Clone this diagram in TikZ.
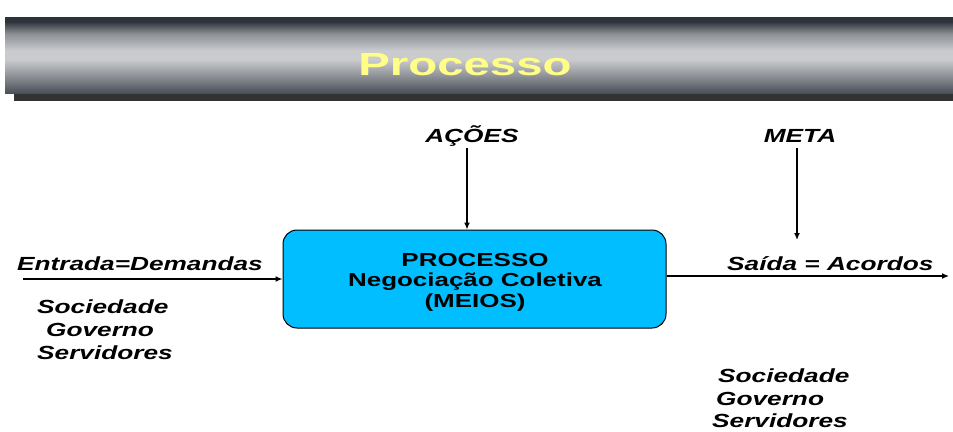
\documentclass[tikz,border=0pt]{standalone}
\usepackage{fontspec}
\setmainfont{Liberation Sans}
\newfontfamily\largo[FakeStretch=1.38]{Liberation Sans}
\newfontfamily\largotit[FakeStretch=1.48]{Liberation Sans}
\usetikzlibrary{arrows.meta}

\definecolor{barraEsc}{RGB}{45,51,58}
\definecolor{barraMed}{RGB}{140,144,149}
\definecolor{barraClara}{RGB}{201,203,205}
\definecolor{barraBase}{RGB}{74,80,88}
\definecolor{sombra}{RGB}{51,51,51}
\definecolor{titulo}{RGB}{255,255,136}
\definecolor{caixa}{RGB}{0,190,255}

% faixa do titulo: escura em cima e em baixo, clara no meio
\pgfdeclareverticalshading{barra}{100bp}{color(0bp)=(barraBase); color(25bp)=(barraBase);
  color(36bp)=(barraMed); color(47bp)=(barraClara); color(53bp)=(barraClara);
  color(64bp)=(barraMed); color(72bp)=(barraEsc); color(100bp)=(barraEsc)}

\begin{document}
\begin{tikzpicture}[x=1pt,y=-1pt,
    rotulo/.style={font=\largo\fontsize{19}{22.5}\selectfont\bfseries\itshape, inner sep=0pt},
    seta/.style={line width=1.3pt, -{Latex[length=7pt,width=6pt]}}]
	\useasboundingbox (0,0) rectangle (953,431);
	% faixa do titulo
	\fill[sombra] (14,93) rectangle (953,101);
	\shade[shading=barra] (5,17) rectangle (953,93);
	\node[font=\largotit\fontsize{32}{32}\selectfont\bfseries, text=titulo, anchor=base, inner sep=0pt] (tit) at (465,75) {Processo};
	% caixa central
	\node[draw=black, line width=1pt, fill=caixa, rounded corners=14pt, minimum width=383pt, minimum height=98pt] (proc) at (474.5,279) {};
	\node[align=center, font=\largo\fontsize{18.8}{20.5}\selectfont\bfseries, inner sep=0pt] (procTxt) at (475,282)
		{PROCESSO\\Negociação Coletiva\\(MEIOS)};
	% entrada
	\node[rotulo, anchor=base west] (entrada) at (17,270) {Entrada=Demandas};
	\coordinate (ini) at (23,279);
	\draw[seta] (ini) -- (proc.west);
	\node[rotulo, anchor=base west] (soc1) at (37,313) {Sociedade};
	\node[rotulo, anchor=base west] (gov1) at (46,336) {Governo};
	\node[rotulo, anchor=base west] (ser1) at (37,359) {Servidores};
	% acoes
	\node[rotulo, anchor=base] (acoes) at (472,142) {AÇÕES};
	\coordinate (a1) at (467,148);
	\draw[seta] (a1) -- (a1 |- proc.north);
	% meta
	\node[rotulo, anchor=base] (meta) at (800,142) {META};
	\coordinate (m1) at (797,148);
	\coordinate (m2) at (797,240);
	\draw[seta] (m1) -- (m2);
	% saida
	\node[rotulo, anchor=base west] (saida) at (727,270) {Saída = Acordos};
	\coordinate (fim) at (949,276);
	\draw[seta] (proc.east |- fim) -- (fim);
	\node[rotulo, anchor=base west] (soc2) at (718,382) {Sociedade};
	\node[rotulo, anchor=base west] (gov2) at (716,405) {Governo};
	\node[rotulo, anchor=base west] (ser2) at (712,427) {Servidores};
\end{tikzpicture}
\end{document}
